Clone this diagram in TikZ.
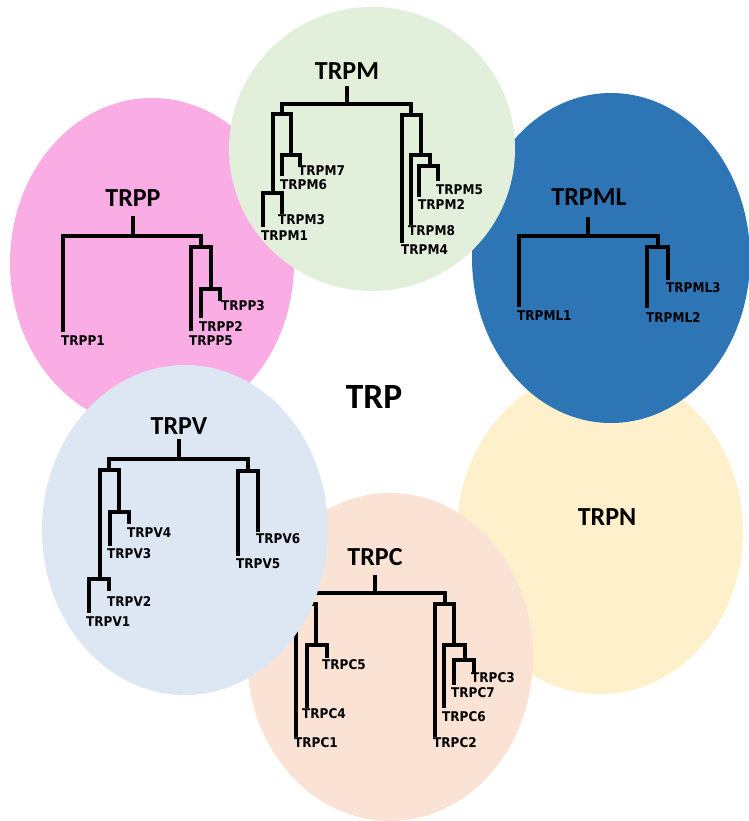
\documentclass[tikz,border=0pt]{standalone}
\usepackage{fontspec}
\setmainfont{Carlito}
\newfontfamily\leaffont{DejaVu Sans Condensed}
\usepackage{tikz}
\usetikzlibrary{calc}
\definecolor{trppPink}{RGB}{249,173,228}
\definecolor{trpmGreen}{RGB}{226,239,218}
\definecolor{trpmlBlue}{RGB}{46,117,182}
\definecolor{trpvBlue}{RGB}{220,231,243}
\definecolor{trpcPeach}{RGB}{250,227,212}
\definecolor{trpnYellow}{RGB}{255,240,204}
\begin{document}
\begin{tikzpicture}[x=1pt,y=-1pt,
  branch/.style={line width=3.3pt},
  clade/.style={inner sep=0pt,font=\fontsize{26}{28}\selectfont\bfseries},
  leaf/.style={anchor=west,inner sep=0pt,font=\leaffont\fontsize{13.4}{15}\selectfont\bfseries}]
\fill[white] (0,0) rectangle (748,821);
\useasboundingbox (0,0) rectangle (748,821);

% TRPP
\fill[trppPink] (152,263) ellipse (142 and 165);
\node[clade] (trpp) at (133,198) {TRPP};
\draw[branch] (201,318) |- (220,289) -- (220,301);
\draw[branch] (191,331) |- (211,247) -- (211,289);
\draw[branch] (63,332) |- (201,236) -- (201,247);
\draw[branch] (133,236) -- (133,216);
\foreach \n/\x/\y in {TRPP1/61/341,TRPP5/189/341,TRPP2/199/327,TRPP3/221/306}
  \node[leaf] (\n) at (\x,\y) {\n};

% TRPN
\fill[trpnYellow] (600,532) ellipse (143 and 162);
\node[clade] (trpn) at (607,517) {TRPN};

% TRPML
\fill[trpmlBlue] (611,258) ellipse (139 and 165);
\node[clade] (trpml) at (589,197) {TRPML};
\draw[branch] (647,308) |- (668,247) -- (668,280);
\draw[branch] (519,307) |- (658,236) -- (658,247);
\draw[branch] (588,236) -- (588,217);
\foreach \n/\x/\y in {TRPML1/517/316,TRPML2/646/318,TRPML3/666/288}
  \node[leaf] (\n) at (\x,\y) {\n};

% TRPC
\fill[trpcPeach] (390,657) ellipse (143 and 164);
\node[clade] (trpc) at (375,557) {TRPC};
\draw[branch] (307,708) |- (327,645) -- (327,658);
\draw[branch] (296,737) |- (316,604) -- (316,645);
\draw[branch] (454,685) |- (474,660) -- (474,673);
\draw[branch] (444,708) |- (465,645) -- (465,660);
\draw[branch] (435,737) |- (454,604) -- (454,645);
\draw[branch] (306,604) |- (445,593) -- (445,604);
\draw[branch] (375,593) -- (375,575);
\foreach \n/\x/\y in {TRPC1/294/743,TRPC4/302/714,TRPC5/322/665,TRPC2/433/743,
  TRPC6/442/717,TRPC7/451/693,TRPC3/471/678}
  \node[leaf] (\n) at (\x,\y) {\n};

% TRPV
\fill[trpvBlue] (185,530) ellipse (143 and 165);
\node[clade] (trpv) at (179,426) {TRPV};
\draw[branch] (89,613) |- (109,579) -- (109,591);
\draw[branch] (110,546) |- (129,512) -- (129,524);
\draw[branch] (100,579) |- (119,470) -- (119,512);
\draw[branch] (238,556) |- (258,471) -- (258,532);
\draw[branch] (109,470) |- (248,459) -- (248,471);
\draw[branch] (179,459) -- (179,439);
\foreach \n/\x/\y in {TRPV1/86/622,TRPV2/107/602,TRPV3/107/554,TRPV4/127/533,
  TRPV5/236/564,TRPV6/256/539}
  \node[leaf] (\n) at (\x,\y) {\n};

% TRPM
\fill[trpmGreen] (372,149) ellipse (143 and 142);
\node[clade] (trpm) at (347,71) {TRPM};
\draw[branch] (263,227) |- (282,193) -- (282,214);
\draw[branch] (282,176) |- (300,155) -- (300,166);
\draw[branch] (273,193) |- (291,114) -- (291,155);
\draw[branch] (419,197) |- (438,166) -- (438,181);
\draw[branch] (411,225) |- (430,155) -- (430,166);
\draw[branch] (402,243) |- (421,115) -- (421,155);
\draw[branch] (282,114) |- (411,104) -- (411,115);
\draw[branch] (347,104) -- (347,86);
\foreach \n/\x/\y in {TRPM1/261/236,TRPM3/278/220,TRPM6/280/185,TRPM7/298/171,
  TRPM4/401/250,TRPM8/408/231,TRPM2/418/205,TRPM5/436/190}
  \node[leaf] (\n) at (\x,\y) {\n};

\node[inner sep=0pt,font=\fontsize{35.5}{38}\selectfont\bfseries] (trp) at (374,397) {TRP};
\end{tikzpicture}
\end{document}
